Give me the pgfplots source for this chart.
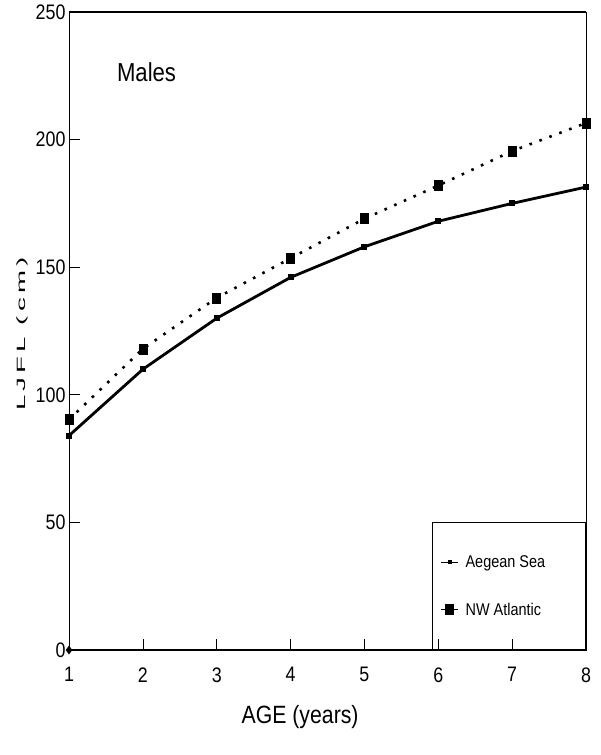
\documentclass[border=0pt]{standalone}
\usepackage{graphicx}
\usepackage{pgfplots}
\pgfplotsset{compat=1.18}
\usepackage{fontspec}
\setmainfont{Liberation Sans}[FakeStretch=0.85]
\newfontfamily\ylabfont{Liberation Sans}[LetterSpace=15]
\begin{document}
\begin{tikzpicture}
\path[use as bounding box] (-69pt,-105pt) rectangle (532pt,650pt);
\begin{axis}[
  scale only axis,
  width=517pt, height=638pt,
  xmin=1, xmax=8, ymin=0, ymax=250,
  xtick={1,...,8}, ytick={0,50,...,250},
  tick align=inside,
  xtick pos=bottom, ytick pos=left,
  major tick length=11pt,
  tick style={black, line width=0.6pt},
  axis line style={black, line width=0.9pt},
  /pgf/number format/assume math mode=true,
  ticklabel style={font=\fontsize{21}{24}\selectfont},
  xticklabel style={yshift=-14pt},
  xlabel={AGE (years)},
  xlabel style={font=\fontsize{25}{28}\selectfont, at={(axis description cs:0.447,0)}, anchor=center, yshift=-67pt},
  ylabel={\scalebox{2.3}[1]{\ylabfont LJFL (cm)}},
  ylabel style={font=\fontsize{12}{14}\selectfont, at={(axis description cs:-0.091,0.495)}, anchor=center},
  legend style={at={(rel axis cs:1,0)}, anchor=south east, draw=black, line width=0.8pt, fill=none,
    inner xsep=8pt, inner ysep=31pt, row sep=30pt, font=\fontsize{17}{19}\selectfont},
  legend cell align=left,
  legend image post style={line width=0.8pt, solid},
  clip=false,
]
\addplot[black, line width=2.8pt, mark=square*, mark size=1.6pt, mark options={solid}] coordinates {
(1,84) (2,110) (3,130) (4,146) (5,158) (6,168) (7,175) (8,181.4)};
\addlegendentry{\hspace{5pt}\makebox[110pt][l]{Aegean Sea}}
\addplot[black, line width=2.6pt, dash pattern=on 2.6pt off 8pt, mark=square*, mark size=5pt, mark options={solid, xscale=0.8, line width=0.5pt}] coordinates {
(1,90.3) (2,118) (3,138) (4,153.5) (5,169) (6,182) (7,195.5) (8,206.5)};
\addlegendentry{\hspace{5pt}\makebox[110pt][l]{NW Atlantic}}
\addplot[only marks, black, mark=diamond*, mark size=4pt, forget plot] coordinates {(1,0)};
\draw[line width=2.2pt] (rel axis cs:0,0) -- (rel axis cs:1,0);
\draw[line width=1.8pt] (rel axis cs:0,1) -- (rel axis cs:1,1);
\node[font=\fontsize{26}{30}\selectfont] at (axis cs:2.05,226.5) {Males};
\end{axis}
\end{tikzpicture}
\end{document}
